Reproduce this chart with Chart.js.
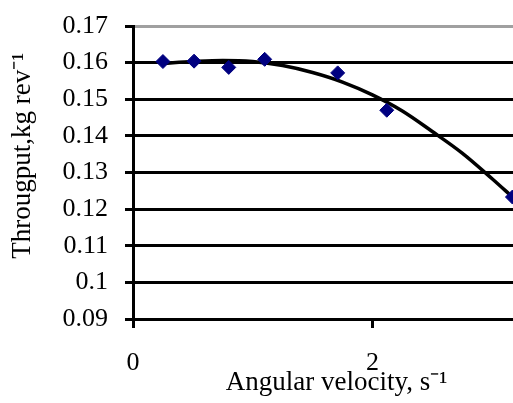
<!DOCTYPE html>
<html>
<head>
<meta charset="utf-8">
<title>Throughput vs angular velocity</title>
<script src="https://cdn.jsdelivr.net/npm/chart.js@4/dist/chart.umd.min.js"></script>
<style>
  html, body { margin: 0; padding: 0; background: #fff; }
  #wrap { width: 513px; height: 403px; overflow: hidden; position: relative; }  /* plot runs past the right edge, like the cropped original */
  canvas { display: block; }
</style>
</head>
<body>
<div id="wrap"><canvas id="throughputChart" width="548" height="403"></canvas></div>
<script>
// measured points (angular velocity, s-1 / throughput, kg rev-1)
const velocity = [0.25, 0.51, 0.80, 1.10, 1.71, 2.12, 3.17];
const throughput = [0.1603, 0.1604, 0.1587, 0.1609, 0.1572, 0.1470, 0.1233];

// trend curve
const trendX = [0.25, 0.5, 0.75, 1.0, 1.25, 1.5, 1.75, 2.0, 2.25, 2.5, 2.75, 3.0, 3.17];
const trendY = [0.1598, 0.1603, 0.1606, 0.1603, 0.1592, 0.1573, 0.1547, 0.1512, 0.1468, 0.1412, 0.1353, 0.1283, 0.1233];

// axis settings
const yTicks = [0.09, 0.10, 0.11, 0.12, 0.13, 0.14, 0.15, 0.16, 0.17];
const xTicks = [0, 2];

const serif = 'Liberation Serif, Times New Roman, serif';

function toPoints(xs, ys){
    return xs.map((x, i) => ({x: x, y: ys[i]}));
}

const chart = new Chart(document.getElementById('throughputChart'), {
    type: 'scatter',
    data: {
        datasets: [
            {
                label: 'Throughput',
                data: toPoints(velocity, throughput),
                pointStyle: 'rectRot',
                pointRadius: 7,
                pointHoverRadius: 7,
                backgroundColor: '#000080',
                borderColor: '#000080',
                borderWidth: 1,
                order: 1
            },
            {
                label: 'Trend',
                data: toPoints(trendX, trendY),
                showLine: true,
                borderColor: '#000',
                borderWidth: 3.5,
                pointRadius: 0,
                cubicInterpolationMode: 'monotone',
                order: 2
            }
        ]
    },
    options: {
        responsive: false,
        animation: false,
        layout: { padding: { top: 26, left: 0, right: 0, bottom: 0 } },
        plugins: {
            legend: { display: false },
            tooltip: { enabled: false }
        },
        scales: {
            x: {
                type: 'linear',
                min: 0,
                max: 3.40,
                afterBuildTicks: scale => {
                    scale.ticks = xTicks.map(v => ({value: v}));
                },
                afterFit: scale => {
                    scale.height = 84;
                    scale.paddingLeft = 0;     // no extra room for label overflow
                    scale.paddingRight = 0;
                },
                ticks: {
                    color: '#000',
                    padding: 20,
                    font: { family: serif, size: 26 },
                    callback: v => String(v)
                },
                grid: {
                    drawOnChartArea: false,
                    drawTicks: true,
                    tickLength: 9,
                    tickWidth: 3,
                    tickColor: '#000'
                },
                border: { color: '#000', width: 3 },
                title: {
                    display: true,
                    text: 'Angular velocity, s\u207B\u00B9',
                    color: '#000',
                    font: { family: serif, size: 27 },
                    padding: { top: 0, bottom: 4 }
                }
            },
            y: {
                min: 0.09,
                max: 0.17,
                afterBuildTicks: scale => {
                    scale.ticks = yTicks.map(v => ({value: v}));
                },
                afterFit: scale => {
                    scale.width = 133;
                    scale.paddingTop = 0;
                    scale.paddingBottom = 0;
                },
                ticks: {
                    color: '#000',
                    padding: 17,
                    autoSkip: false,
                    font: { family: serif, size: 26 },
                    callback: v => String(+v.toFixed(2))
                },
                grid: {
                    color: ctx => Math.abs(ctx.tick.value - 0.17) < 1e-6 ? '#a0a0a0' : '#000',
                    lineWidth: 3,
                    tickLength: 8,
                    tickColor: '#000',
                    tickWidth: 3
                },
                border: { color: '#000', width: 3 },
                title: {
                    display: true,
                    text: '     Througput,kg rev\u207B\u00B9',   // leading spaces nudge it up a bit
                    color: '#000',
                    font: { family: serif, size: 27 },
                    padding: { top: 7, bottom: 0 }
                }
            }
        }
    }
});
</script>
</body>
</html>
